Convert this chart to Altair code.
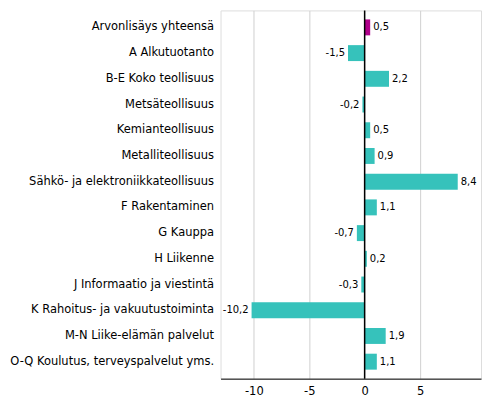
import altair as alt
import pandas as pd

categories = [
    "Arvonlisäys yhteensä",
    "A Alkutuotanto",
    "B-E Koko teollisuus",
    "Metsäteollisuus",
    "Kemianteollisuus",
    "Metalliteollisuus",
    "Sähkö- ja elektroniikkateollisuus",
    "F Rakentaminen",
    "G Kauppa",
    "H Liikenne",
    "J Informaatio ja viestintä",
    "K Rahoitus- ja vakuutustoiminta",
    "M-N Liike-elämän palvelut",
    "O-Q Koulutus, terveyspalvelut yms.",
]
values = [0.5, -1.5, 2.2, -0.2, 0.5, 0.9, 8.4, 1.1, -0.7, 0.2, -0.3, -10.2, 1.9, 1.1]
labels = ["0,5", "-1,5", "2,2", "-0,2", "0,5", "0,9", "8,4", "1,1", "-0,7", "0,2", "-0,3", "-10,2", "1,9", "1,1"]
groups = ["total"] + ["other"] * 13

df = pd.DataFrame({"cat": categories, "val": values, "lab": labels, "grp": groups})

FONT = "DejaVu Sans"

x = alt.X(
    "val:Q",
    scale=alt.Scale(domain=[-13, 10.5], nice=False, zero=False),
    axis=alt.Axis(
        values=[-10, -5, 0, 5],
        format="d",
        labelExpr="replace(datum.label, '−', '-')",
        title=None,
        grid=True,
        gridColor="#d0d0d0",
        domainColor="#000000",
        ticks=False,
        labelFont=FONT,
        labelFontSize=11.5,
        labelColor="#000000",
        labelPadding=7,
    ),
)
y = alt.Y(
    "cat:N",
    sort=categories,
    scale=alt.Scale(paddingInner=0.38, paddingOuter=0.35),
    axis=alt.Axis(
        title=None,
        domain=False,
        ticks=False,
        labelFont=FONT,
        labelFontSize=11.5,
        labelColor="#000000",
        labelPadding=7,
        labelLimit=300,
    ),
)

bars = alt.Chart(df).mark_bar().encode(
    x=x,
    y=y,
    color=alt.Color(
        "grp:N",
        scale=alt.Scale(domain=["total", "other"], range=["#b0008a", "#36c2bb"]),
        legend=None,
    ),
)

text_pos = alt.Chart(df).transform_filter("datum.val >= 0").mark_text(
    align="left", dx=3, font=FONT, fontSize=10, color="#000000"
).encode(x="val:Q", y=alt.Y("cat:N", sort=categories), text="lab:N")

text_neg = alt.Chart(df).transform_filter("datum.val < 0").mark_text(
    align="right", dx=-3, font=FONT, fontSize=10, color="#000000"
).encode(x="val:Q", y=alt.Y("cat:N", sort=categories), text="lab:N")

zero = alt.Chart(pd.DataFrame({"z": [0]})).mark_rule(color="#000000", strokeWidth=1.5).encode(x="z:Q")

chart = (
    alt.layer(bars, zero, text_pos, text_neg)
    .properties(
        width=261,
        height=369,
        autosize=alt.AutoSizeParams(type="none"),
        padding={"left": 213, "top": 2, "right": 2, "bottom": 30},
    )
    .configure_view(stroke=None)
    .configure(background="#ffffff")
)

chart.save("out.html", embed_options={"renderer": "svg", "actions": False})
